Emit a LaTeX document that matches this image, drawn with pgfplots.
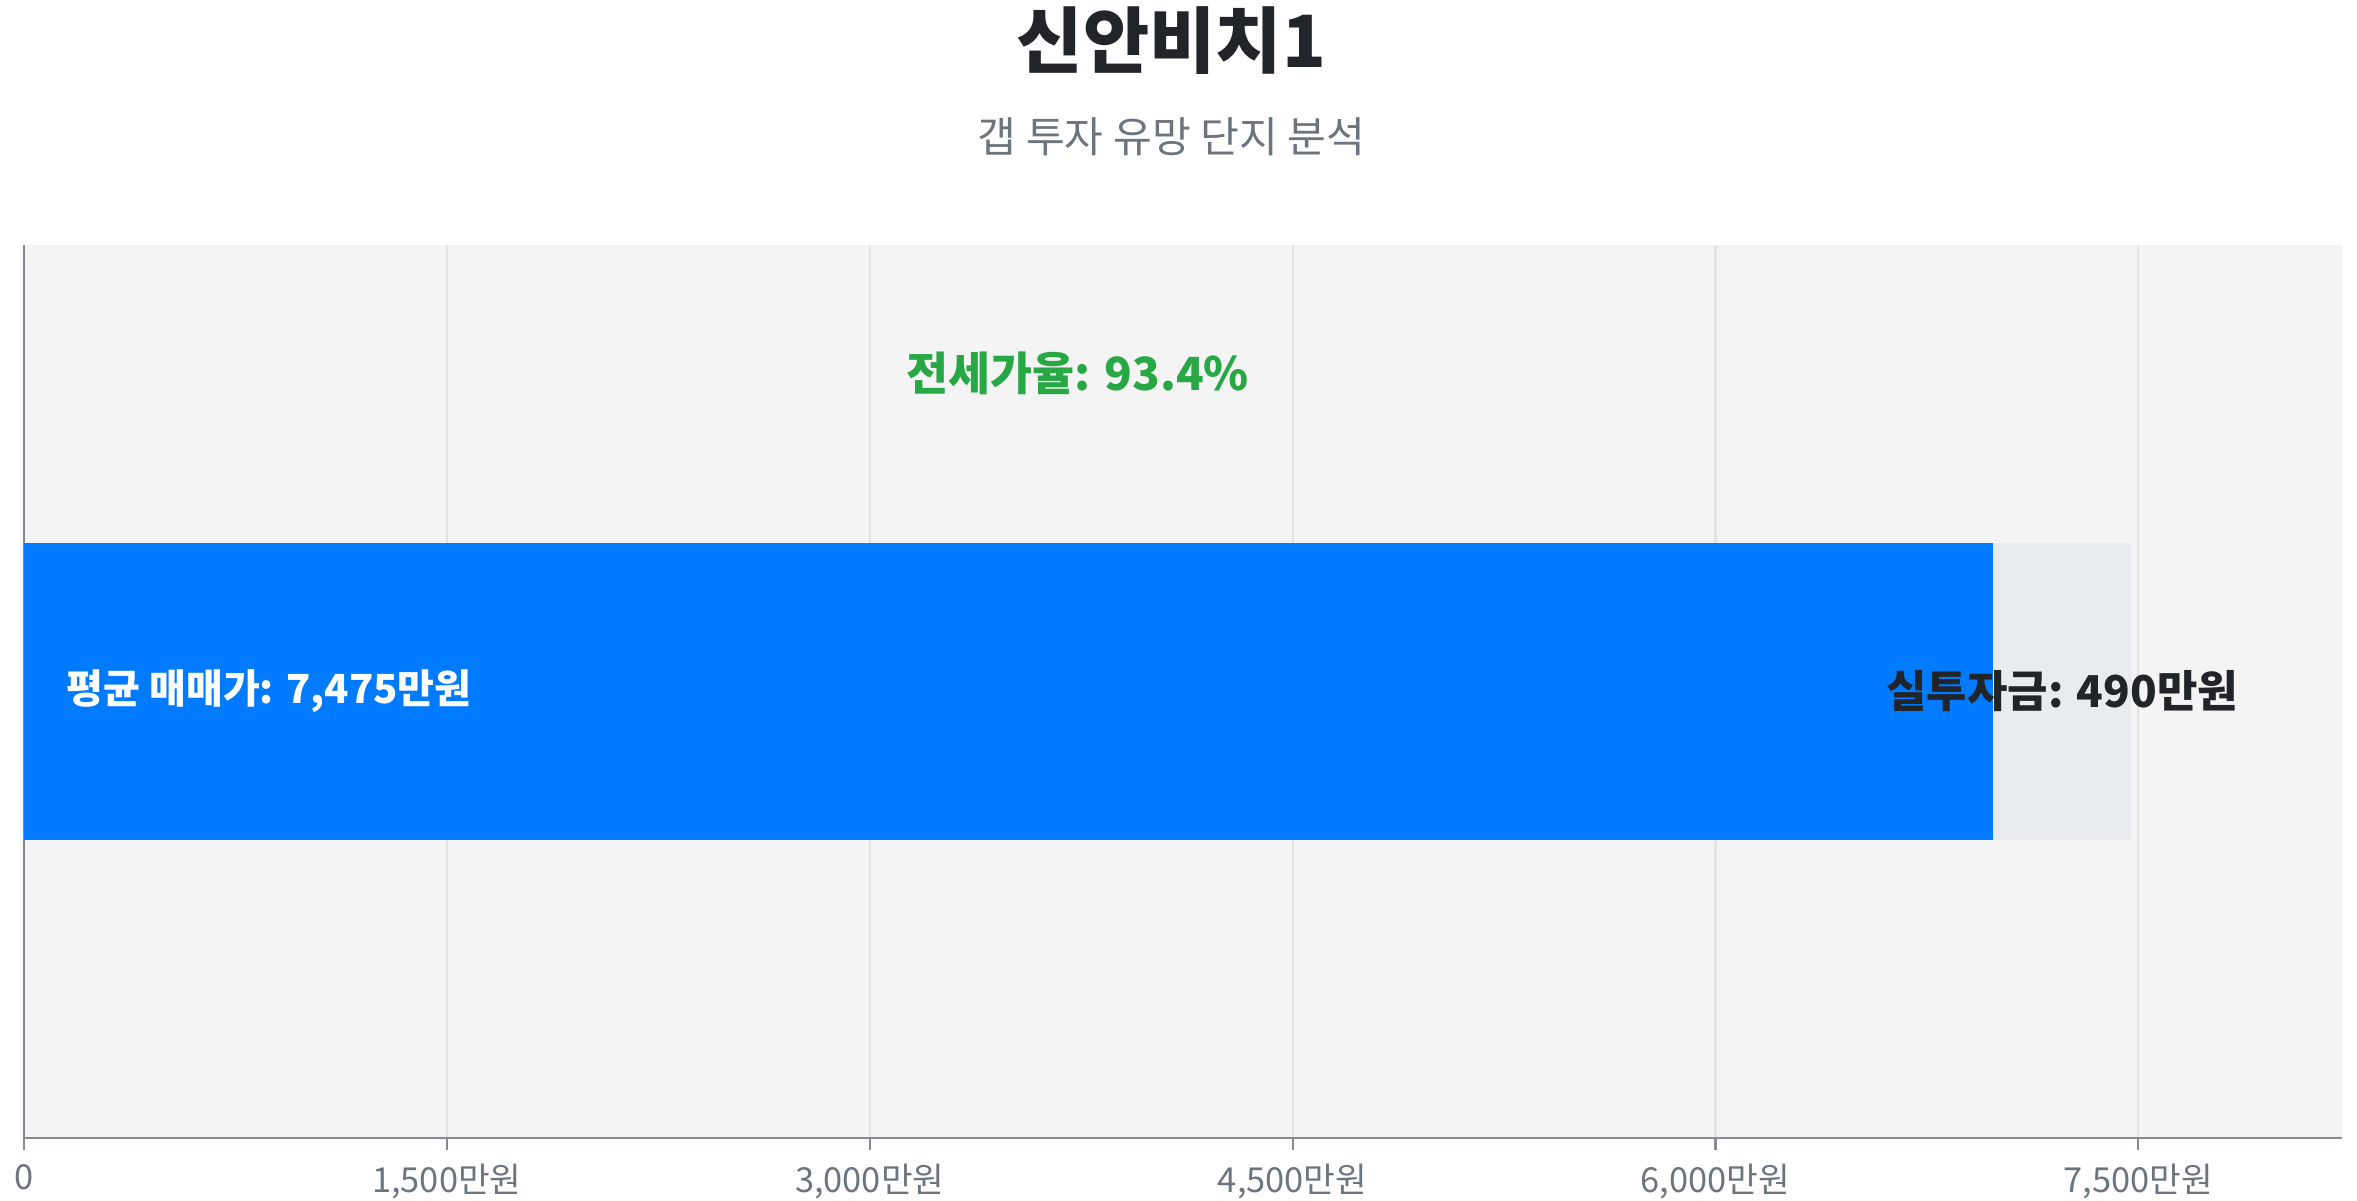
\documentclass[border=0pt]{standalone}
\usepackage{pgfplots}
\pgfplotsset{compat=1.18}
\usepackage{fontspec}
\setmainfont{Noto Sans CJK KR}

\definecolor{barblue}{HTML}{007BFF}
\definecolor{restgray}{HTML}{E9ECEF}
\definecolor{plotbg}{HTML}{F4F4F4}
\definecolor{gridgray}{HTML}{E3E3E3}
\definecolor{axisgray}{HTML}{868B91}
\definecolor{ratiogreen}{HTML}{28A745}
\definecolor{titledark}{HTML}{212529}
\definecolor{subgray}{HTML}{6C757D}

\begin{document}
\begin{tikzpicture}
\path[use as bounding box] (-0.24cm,-0.62cm) rectangle (23.33cm,11.38cm);
\begin{axis}[
    scale only axis,
    width=23.18cm, height=8.93cm,
    xbar stacked,
    bar width=1,
    xmin=0, xmax=8222.5,
    ymin=-1.5, ymax=1.5,
    axis x line=bottom, axis y line=left,
    axis line style={-, axisgray, line width=0.8pt},
    axis background/.style={fill=plotbg},
    xtick={0,1500,3000,4500,6000,7500},
    xticklabels={0,{1,500만원},{3,000만원},{4,500만원},{6,000만원},{7,500만원}},
    ytick=\empty,
    xmajorgrids,
    major grid style={gridgray, line width=0.6pt},
    major tick length=0.12cm,
    tick style={axisgray, line width=0.6pt},
    xtick align=outside,
    ticklabel style={font=\fontsize{9.8}{12}\selectfont, text=subgray},
    xticklabel style={yshift=-0.02cm},
    clip=false,
]
% 전세가 부분 (매매가 - 실투자금)
\addplot[fill=barblue, draw=none] coordinates {(6985,0)};
% 실투자금
\addplot[fill=restgray, draw=none] coordinates {(490,0)};

\coordinate (salelbl) at (axis cs:0,0);
\coordinate (gaplbl) at (axis cs:7230,0);
\coordinate (ratiolbl) at (axis cs:3737.5,1.07);
\coordinate (top) at (axis description cs:0.495,1);
\end{axis}
\node[anchor=west, text=white, font=\fontsize{11.4}{14}\selectfont\bfseries]
    at (salelbl) [xshift=0.3cm] {평균 매매가: 7,475만원};
\node[text=titledark, font=\fontsize{12.5}{14}\selectfont\bfseries]
    at (gaplbl) {실투자금: 490만원};
\node[text=ratiogreen, font=\fontsize{13}{16}\selectfont\bfseries]
    at (ratiolbl) {전세가율: 93.4\%};
\node[text=titledark, font=\fontsize{20.5}{24}\selectfont\bfseries]
    at (top) [yshift=2.04cm] {신안비치1};
\node[text=subgray, font=\fontsize{12}{14}\selectfont]
    at (top) [yshift=1.08cm] {갭 투자 유망 단지 분석};
\end{tikzpicture}
\end{document}
